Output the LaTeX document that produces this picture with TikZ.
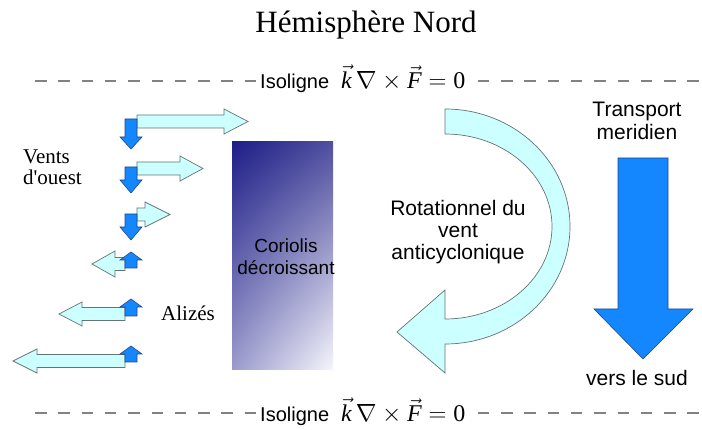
\documentclass[tikz,border=0pt]{standalone}
\usepackage{fontspec}
\usetikzlibrary{shadings}
\setmainfont{Liberation Serif}
\setsansfont{Liberation Sans}
\definecolor{cyanfill}{RGB}{204,255,255}
\definecolor{cyanline}{RGB}{100,115,115}
\definecolor{bluefill}{RGB}{20,135,255}
\definecolor{blueline}{RGB}{35,70,135}
\definecolor{dashgrey}{RGB}{130,130,130}
\definecolor{gradA}{RGB}{30,30,135}
\definecolor{gradB}{RGB}{80,80,160}
\definecolor{gradC}{RGB}{155,155,205}
\definecolor{gradD}{RGB}{246,246,252}
\newcommand{\isoeq}{{\sffamily\fontsize{20}{24}\selectfont Isoligne}\hspace{12pt}{\fontsize{24}{28}\selectfont$\vec{\textit{k}}\,\nabla\times\vec{\textit{F}}=\mathrm{0}$}}
\tikzset{
  cyanarr/.style={fill=cyanfill, draw=cyanline, line width=0.7pt, line join=miter},
  bluearr/.style={fill=bluefill, draw=blueline, line width=0.6pt, line join=miter},
  isoline/.style={draw=dashgrey, line width=1.4pt, dash pattern=on 11.5pt off 11.8pt},
  sanslbl/.style={font=\sffamily\fontsize{21}{23}\selectfont, align=center, inner sep=0pt},
  seriflbl/.style={font=\fontsize{21}{21}\selectfont, align=left, inner sep=0pt},
  isolbl/.style={fill=white, inner sep=3pt, anchor=west}
}
\begin{document}
\begin{tikzpicture}[x=1pt,y=-1pt]
\useasboundingbox (0,0) rectangle (702,430);
% title
\node[font=\fontsize{31}{31}\selectfont, inner sep=0pt, anchor=base] (title) at (366,33) {Hémisphère Nord};
% isolines
\draw[isoline] (35,81) -- (702,81);
\draw[isoline] (35,413) -- (702,413);
\node[isolbl] (isotop) at (257,79) {\isoeq};
\node[isolbl] (isobot) at (257,412) {\isoeq};
% gradient rectangle
\shade[upper left=gradA, upper right=gradB, lower left=gradC, lower right=gradD] (232,142) rectangle (333,370);
\node[sanslbl, font=\sffamily\fontsize{19}{22}\selectfont] (coriolis) at (286,257) {Coriolis\\décroissant};
% curved arrow
\draw[cyanarr] (445,109) arc[start angle=90, end angle=-90, x radius=125pt, y radius=117.5pt]
  -- (445,373) -- (397,332) -- (445,290) -- (445,319)
  arc[start angle=-90, end angle=90, x radius=107pt, y radius=92.5pt] -- cycle;
\node[sanslbl, font=\sffamily\fontsize{21}{22}\selectfont] (rot) at (458,232) {Rotationnel du\\vent\\anticyclonique};
% transport
\node[sanslbl] (transport) at (637,121) {Transport\\meridien};
\draw[bluearr] (618,158) -- (668,158) -- (668,309) -- (693,309) -- (643,359) -- (594,309) -- (618,309) -- cycle;
\node[sanslbl] (sud) at (637,378) {vers le sud};
% left labels
\node[seriflbl, anchor=west] (vents) at (23,167) {Vents\\d\textquotesingle ouest};
\node[seriflbl, anchor=west] (alizes) at (161,313) {Alizés};
% westerlies (rows 1-3)
\draw[cyanarr] (137,115) -- (224,115) -- (224,109) -- (248,121.5) -- (224,134) -- (224,128) -- (137,128) -- cycle;
\draw[bluearr] (125,119) -- (137,119) -- (137,137) -- (142,137) -- (131,149) -- (120,137) -- (125,137) -- cycle;
\draw[cyanarr] (137,162) -- (180,162) -- (180,156) -- (203,168.5) -- (180,181) -- (180,175) -- (137,175) -- cycle;
\draw[bluearr] (125,167) -- (137,167) -- (137,180) -- (142,180) -- (131,193) -- (120,180) -- (125,180) -- cycle;
\draw[cyanarr] (137,208) -- (145,208) -- (145,202) -- (170,214.5) -- (145,227) -- (145,221) -- (137,221) -- cycle;
\draw[bluearr] (125,214) -- (137,214) -- (137,227) -- (142,227) -- (131,240) -- (120,227) -- (125,227) -- cycle;
% trade winds (rows 4-6)
\draw[cyanarr] (125,257.5) -- (115,257.5) -- (115,251) -- (92,264) -- (115,277) -- (115,270.5) -- (125,270.5) -- cycle;
\draw[bluearr] (125,268) -- (125,260) -- (120,260) -- (131,252) -- (142,260) -- (137,260) -- (137,268) -- cycle;
\draw[cyanarr] (125,307.5) -- (82,307.5) -- (82,302) -- (59,314) -- (82,326) -- (82,320.5) -- (125,320.5) -- cycle;
\draw[bluearr] (125,316) -- (125,307) -- (120,307) -- (131,299) -- (142,307) -- (137,307) -- (137,316) -- cycle;
\draw[cyanarr] (125,354.5) -- (37,354.5) -- (37,349) -- (13,361) -- (37,373) -- (37,367.5) -- (125,367.5) -- cycle;
\draw[bluearr] (125,362) -- (125,354) -- (120,354) -- (131,346) -- (142,354) -- (137,354) -- (137,362) -- cycle;
\end{tikzpicture}
\end{document}
